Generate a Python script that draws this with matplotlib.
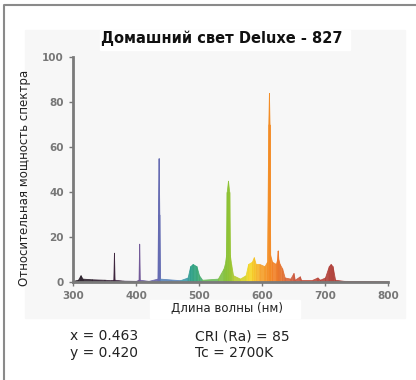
import numpy as np
import matplotlib
matplotlib.use("Agg")
import matplotlib.pyplot as plt
from matplotlib.patches import Rectangle
from matplotlib.lines import Line2D

# spectrum outline (nm, relative power)
wavelength = [300, 308, 312, 315, 330, 350, 360, 364, 365, 366, 380, 400, 404, 405, 406,
              420, 434, 435, 436, 437, 438, 470, 482, 486, 490, 496, 500, 505, 530, 539,
              541, 543, 544, 546, 548, 549, 551, 554, 565, 574, 578, 584, 587, 590, 596,
              604, 608, 610, 611, 612, 613, 616, 622, 624, 625, 626, 628, 632, 636, 645,
              650, 652, 660, 662, 680, 688, 692, 700, 706, 709, 712, 716, 730, 800]
power = [0.5, 1, 3, 1.5, 1.2, 1, 0.8, 1, 13, 1, 0.6, 0.5, 1, 17, 1,
         0.5, 1.5, 30, 55, 30, 1.5, 0.8, 2, 7, 8, 7, 3, 1, 1.5, 6,
         8, 12, 40, 45, 40, 12, 8, 3, 1.5, 3, 8, 9, 11, 8, 8,
         7, 9, 70, 84, 70, 12, 9, 8, 10, 14, 10, 8, 6, 2, 1.5,
         4, 1, 2.5, 1, 1, 2, 1, 2, 7, 8, 7, 1, 0.5, 0.3]

x_ticks = [300, 400, 500, 600, 700, 800]
y_ticks = [0, 20, 40, 60, 80, 100]

title = "Домашний свет Deluxe - 827"
x_label = "Длина волны (нм)"
y_label = "Относительная мощность спектра"
info_left = ["x = 0.463", "y = 0.420"]
info_right = ["CRI (Ra) = 85", "Tc = 2700K"]

# colour for each part of the spectrum
col_wl = [300, 370, 405, 436, 470, 490, 520, 546, 580, 600, 620, 650, 700, 800]
col_rgb = np.array([
    [0.15, 0.12, 0.15], [0.25, 0.15, 0.25], [0.45, 0.35, 0.60], [0.40, 0.42, 0.70],
    [0.30, 0.60, 0.75], [0.15, 0.62, 0.50], [0.45, 0.75, 0.35], [0.55, 0.76, 0.20],
    [0.96, 0.85, 0.15], [0.96, 0.62, 0.15], [0.95, 0.50, 0.15], [0.80, 0.35, 0.25],
    [0.70, 0.25, 0.22], [0.60, 0.20, 0.20]])


def wl_color(w):
    return tuple(np.interp(w, col_wl, col_rgb[:, k]) for k in range(3))


W, H = 416, 380
fig = plt.figure(figsize=(W / 100, H / 100), dpi=100)
fig.patch.set_facecolor("white")

# faint grey picture background and white boxes
fig.patches.append(Rectangle((25 / W, 1 - 318 / H), 380 / W, 288 / H,
                             transform=fig.transFigure, color="#f7f7f7", zorder=-10))
fig.patches.append(Rectangle((100 / W, 1 - 50 / H), 250 / W, 20 / H,
                             transform=fig.transFigure, color="white", zorder=-9))
fig.patches.append(Rectangle((150 / W, 1 - 318 / H), 150 / W, 18 / H,
                             transform=fig.transFigure, color="white", zorder=-9))

# outer frame (top and left only)
fig.lines.append(Line2D([4 / W, 4 / W, 1], [0, 1 - 5 / H, 1 - 5 / H],
                        transform=fig.transFigure, color="#8a8a8a", lw=1.5))

ax = fig.add_axes([73 / W, 1 - 282 / H, (388 - 73) / W, (282 - 57) / H])
ax.set_facecolor("none")
ax.set_zorder(5)

for i in range(len(wavelength) - 1):
    c = wl_color(0.5 * (wavelength[i] + wavelength[i + 1]))
    ax.fill_between(wavelength[i:i + 2], power[i:i + 2], color=c, lw=0.6, alpha=0.9)

ax.set_xlim(300, 800)
ax.set_ylim(0, 100)
ax.set_xticks(x_ticks)
ax.set_yticks(y_ticks)
ax.tick_params(labelsize=7.5, colors="#777777", length=3, width=1)
for lab in ax.get_xticklabels() + ax.get_yticklabels():
    lab.set_fontweight("bold")
for s in ["top", "right"]:
    ax.spines[s].set_visible(False)
for s in ["left", "bottom"]:
    ax.spines[s].set_color("#7a7a7a")
    ax.spines[s].set_linewidth(2)

fig.text(222 / W, 1 - 38 / H, title, ha="center", va="center",
         fontsize=10.5, fontweight="bold", color="#111111")
fig.text(227 / W, 1 - 308 / H, x_label, ha="center", va="center",
         fontsize=8.5, color="#222222")
fig.text(25 / W, 1 - 178 / H, y_label, ha="center", va="center", rotation=90,
         fontsize=8.5, color="#222222")
for k in range(2):
    fig.text(70 / W, 1 - (336 + 17 * k) / H, info_left[k], ha="left", va="center",
             fontsize=10, color="#222222")
    fig.text(195 / W, 1 - (336 + 17 * k) / H, info_right[k], ha="left", va="center",
             fontsize=10, color="#222222")

fig.savefig("out.png", dpi=100)
